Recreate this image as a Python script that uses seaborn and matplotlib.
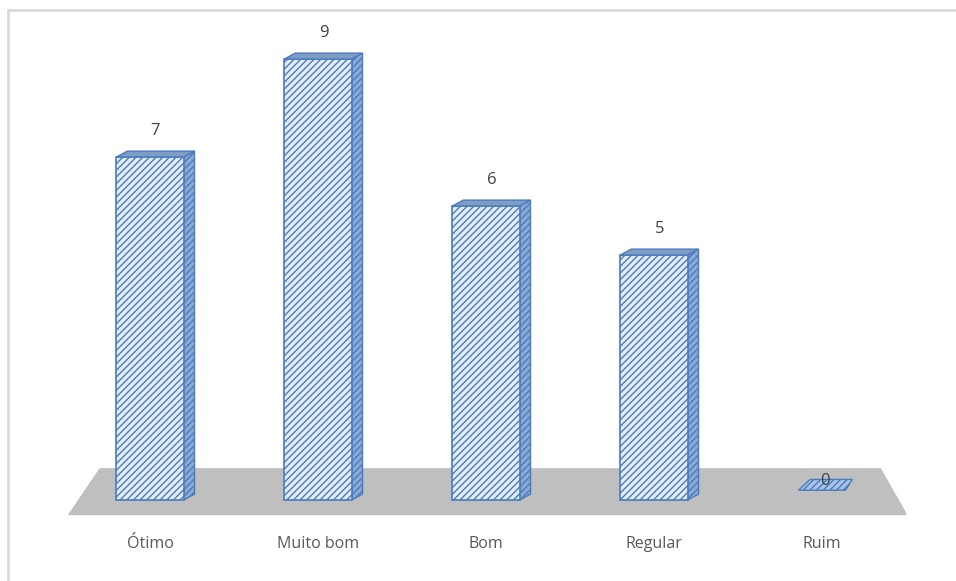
import matplotlib
matplotlib.use("Agg")
import matplotlib.pyplot as plt
import seaborn as sns
import pandas as pd
from matplotlib.patches import Polygon
from matplotlib.lines import Line2D

# dados
categorias = ["Ótimo", "Muito bom", "Bom", "Regular", "Ruim"]
valores = [7, 9, 6, 5, 0]

df = pd.DataFrame({"categoria": categorias, "valor": valores})

sns.set_style("white")
plt.rcParams["font.family"] = ["Open Sans", "DejaVu Sans"]
plt.rcParams["hatch.linewidth"] = 1.0
plt.rcParams["hatch.color"] = "#6a93cc"

fig = plt.figure(figsize=(9.56, 5.81), dpi=100)
# eixo: 0 em y=500 px, 49 px por unidade
ax = fig.add_axes([66 / 956, (581 - 529.4) / 581, 840 / 956, 519.4 / 581])

azul = "#4a7bbf"
sns.barplot(data=df, x="categoria", y="valor", ax=ax, width=0.4,
            color="#e3edf9", edgecolor=azul, linewidth=1.2, saturation=1, zorder=3)

ax.set_xlim(-0.5, 4.5)
ax.set_ylim(-0.6, 10)

# piso cinza
piso = Polygon([(-0.49, -0.31), (4.51, -0.31), (4.35, 0.65), (-0.30, 0.65)],
               closed=True, facecolor="#bfbfbf", edgecolor="none", zorder=1)
ax.add_patch(piso)

dx, dy = 0.065, 0.12
for bar, v in zip(ax.patches, valores):
    x0 = bar.get_x()
    w = bar.get_width()
    bar.set_hatch("/////")
    if v == 0:
        bar.set_visible(False)
        cx = x0 + w / 2
        base = Polygon([(cx - 0.14, 0.2), (cx + 0.14, 0.2), (cx + 0.18, 0.42), (cx - 0.07, 0.42)],
                       closed=True, facecolor="#aac4e6", edgecolor=azul, hatch="/////",
                       linewidth=1, zorder=2)
        ax.add_patch(base)
        ax.text(cx + 0.02, 0.22, "0", ha="center", va="bottom", fontsize=12, color="#404040", zorder=4)
        continue
    topo = Polygon([(x0, v), (x0 + w, v), (x0 + w + dx, v + dy), (x0 + dx, v + dy)],
                   closed=True, facecolor="#7e9cc4", edgecolor=azul, linewidth=1, zorder=4)
    lado = Polygon([(x0 + w, 0), (x0 + w + dx, dy), (x0 + w + dx, v + dy), (x0 + w, v)],
                   closed=True, facecolor="#8aaad6", edgecolor=azul, hatch="/////",
                   linewidth=1, zorder=2)
    ax.add_patch(topo)
    ax.add_patch(lado)
    ax.text(x0 + w / 2 + dx / 2, v + 0.36, str(v), ha="center", va="bottom",
            fontsize=12, color="#404040", zorder=4)

ax.set_xlabel("")
ax.set_ylabel("")
ax.set_yticks([])
ax.tick_params(axis="x", length=0, pad=5, labelsize=11.5, labelcolor="#595959")
for s in ax.spines.values():
    s.set_visible(False)

# moldura (apenas topo e esquerda visíveis no recorte)
fig.add_artist(Line2D([8 / 956, 1], [1 - 10 / 581, 1 - 10 / 581], color="#d9d9d9", lw=2))
fig.add_artist(Line2D([8 / 956, 8 / 956], [0, 1 - 10 / 581], color="#d9d9d9", lw=2))

fig.savefig("out.png", dpi=100, facecolor="white")
